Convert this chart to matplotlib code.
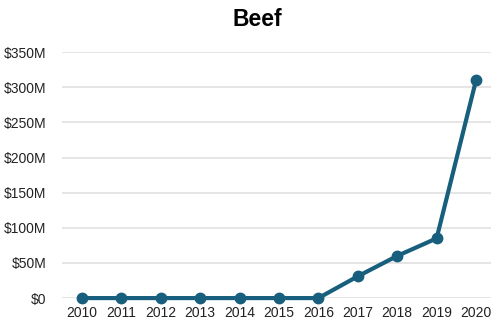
import matplotlib.pyplot as plt

plt.rcParams['font.family'] = ['Liberation Sans', 'DejaVu Sans']

years = [2010, 2011, 2012, 2013, 2014, 2015, 2016, 2017, 2018, 2019, 2020]
values = [0, 0, 0, 0, 0, 0, 0, 31, 60, 85, 310]  # millions of dollars
yticks = [0, 50, 100, 150, 200, 250, 300, 350]
ylabels = ['$0', '$50M', '$100M', '$150M', '$200M', '$250M', '$300M', '$350M']

fig = plt.figure(figsize=(4.91, 3.24), dpi=100)
ax = fig.add_axes([0.126, 0.080, 0.874, 0.759])

ax.plot(years, values, color='#175f7d', lw=3, marker='o', ms=7.5,
        clip_on=False, zorder=3)

ax.set_ylim(0, 350)
ax.set_xlim(2009.49, 2020.38)
ax.set_yticks(yticks)
ax.set_yticklabels(ylabels)
ax.set_xticks(years)
ax.grid(axis='y', color='#e0e0e0', lw=1.2)
ax.set_axisbelow(True)
for s in ax.spines.values():
    s.set_visible(False)
ax.tick_params(length=0, labelsize=10, colors='#222222')
ax.tick_params(axis='y', pad=11)
ax.tick_params(axis='x', pad=6)

fig.text(0.525, 0.94, 'Beef', ha='center', va='center',
         fontsize=16.5, fontweight='bold')

fig.savefig('out.png', dpi=100)
